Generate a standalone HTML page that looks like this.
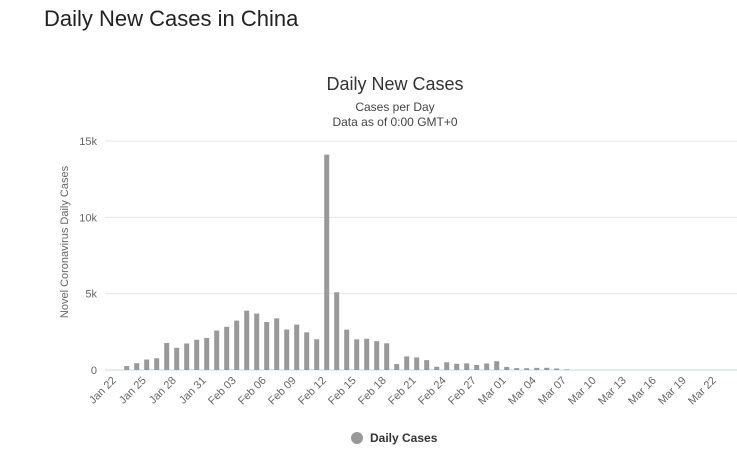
<!DOCTYPE html>
<html><head><meta charset="utf-8">
<style>
body{margin:0;background:#fff;font-family:"Liberation Sans",sans-serif;}
#wrap{position:relative;width:737px;height:464px;overflow:hidden;}
h1{position:absolute;left:44px;top:6px;margin:0;font-weight:normal;font-size:22px;color:#222;}
</style></head><body>
<div id="wrap">
<h1>Daily New Cases in China</h1>
<svg id="chart" width="737" height="464" style="position:absolute;left:0;top:0">
<text x="395" y="90" text-anchor="middle" font-size="18" fill="#333">Daily New Cases</text>
<text x="395" y="111" text-anchor="middle" font-size="12" fill="#444">Cases per Day</text>
<text x="395" y="126" text-anchor="middle" font-size="12" fill="#444">Data as of 0:00 GMT+0</text>
<text transform="translate(68,242) rotate(-90)" text-anchor="middle" font-size="11" fill="#666">Novel Coronavirus Daily Cases</text>
<g id="grid"></g><g id="bars"></g><g id="xl"></g>
<g>
<circle cx="357" cy="438" r="6" fill="#999"/>
<text x="370" y="442" font-size="12" font-weight="bold" fill="#333">Daily Cases</text>
</g>
</svg>
</div>
<script>
const categories=["Jan 22","Jan 23","Jan 24","Jan 25","Jan 26","Jan 27","Jan 28","Jan 29","Jan 30","Jan 31","Feb 01","Feb 02","Feb 03","Feb 04","Feb 05","Feb 06","Feb 07","Feb 08","Feb 09","Feb 10","Feb 11","Feb 12","Feb 13","Feb 14","Feb 15","Feb 16","Feb 17","Feb 18","Feb 19","Feb 20","Feb 21","Feb 22","Feb 23","Feb 24","Feb 25","Feb 26","Feb 27","Feb 28","Feb 29","Mar 01","Mar 02","Mar 03","Mar 04","Mar 05","Mar 06","Mar 07","Mar 08","Mar 09","Mar 10","Mar 11","Mar 12","Mar 13","Mar 14","Mar 15","Mar 16","Mar 17","Mar 18","Mar 19","Mar 20","Mar 21","Mar 22","Mar 23"];
const dailyCases=[0,259,444,688,769,1771,1459,1737,1982,2102,2590,2829,3235,3887,3694,3143,3385,2652,2973,2467,2015,14108,5090,2641,2008,2048,1886,1749,391,889,823,648,214,508,406,433,327,427,573,202,125,119,139,143,99,44,0,0,0,0,0,0,0,0,0,0,0,0,0,0,0,0];
const yTicks=[0,5000,10000,15000];
const yTickLabels=["0","5k","10k","15k"];
const NS="http://www.w3.org/2000/svg";
const x0=111.7,band=10,y0=370,yTop=141,yMax=15000;
const xPos=i=>x0+band*i+band/2;
const yPos=v=>y0-(v/yMax)*(y0-yTop);
function mk(t,a,p){const e=document.createElementNS(NS,t);for(const k in a)e.setAttribute(k,a[k]);p.appendChild(e);return e;}
const grid=document.getElementById('grid');
yTicks.forEach((v,i)=>{
 const l=mk('line',{x1:105,x2:737,y1:yPos(v),y2:yPos(v),stroke:v===0?'#ccd6eb':'#e6e6e6','stroke-width':1},grid);
 
 
 const t=mk('text',{x:97,y:yPos(v)+4,'text-anchor':'end','font-size':11,fill:'#666'},grid);
 t.textContent=yTickLabels[i];
 
 
});
const bars=document.getElementById('bars');
dailyCases.forEach((v,i)=>{
 if(v<=0)return;
 const r=mk('rect',{x:xPos(i)-2.5,y:yPos(v),width:5,height:y0-yPos(v),fill:'#999'},bars);
 
 
});
const xl=document.getElementById('xl');
categories.forEach((c,i)=>{
 if(i%3)return;
 const x=xPos(i),y=381;
 const t=mk('text',{x:x,y:y,'text-anchor':'end','font-size':11,fill:'#666',transform:`rotate(-45 ${x} ${y})`},xl);
 t.textContent=c;
 
 
});
</script>
</body></html>
